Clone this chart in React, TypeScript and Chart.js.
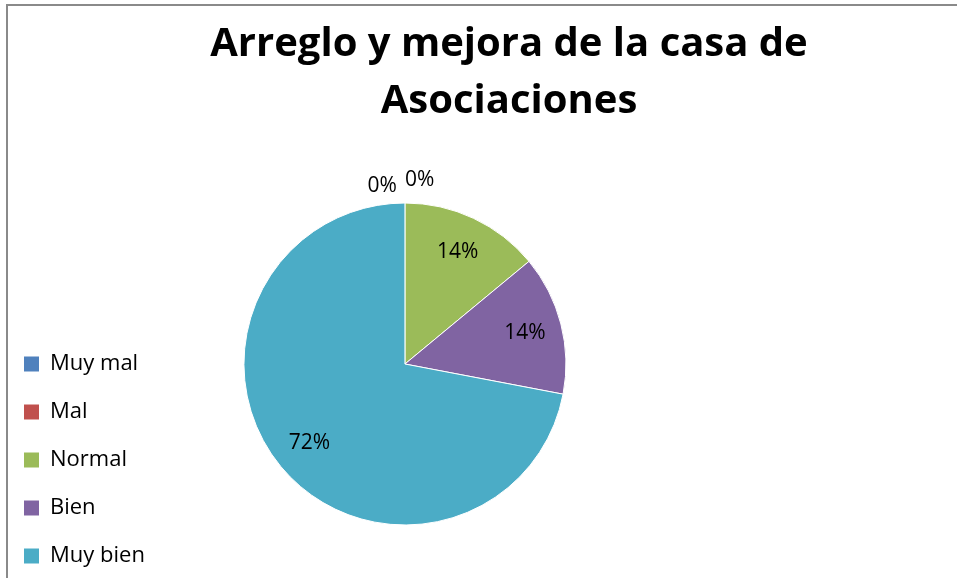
import { useEffect, useRef } from "react";
import { Chart, registerables, DoughnutController } from "chart.js";

Chart.register(...registerables);

const TITLE_LINES = ["Arreglo y mejora de la casa de", "Asociaciones"];
const CATEGORIES = ["Muy mal", "Mal", "Normal", "Bien", "Muy bien"];
const VALUES = [0, 0, 14, 14, 72];
const COLORS = ["#4F81BD", "#C0504D", "#9BBB59", "#8064A2", "#4BACC6"];

const FONT = "'Open Sans', Lato, sans-serif";
const W = 957;
const H = 578;
const FRAME_LEFT = 6;
const FRAME_RIGHT = 1012;

const titlePlugin = {
  id: "customTitle",
  afterDraw(chart: any) {
    const ctx = chart.ctx;
    ctx.save();
    ctx.font = `bold 40px ${FONT}`;
    ctx.fillStyle = "#000";
    ctx.textAlign = "center";
    ctx.textBaseline = "alphabetic";
    const cx = (FRAME_LEFT + FRAME_RIGHT) / 2;
    TITLE_LINES.forEach((line, i) => ctx.fillText(line, cx, 56 + i * 57));
    ctx.restore();
  },
};

const labelPlugin = {
  id: "pctLabels",
  afterDatasetsDraw(chart: any) {
    const meta = chart.getDatasetMeta(0);
    const data = chart.data.datasets[0].data as number[];
    const total = data.reduce((a, b) => a + b, 0);
    const ctx = chart.ctx;
    ctx.save();
    ctx.font = `21px ${FONT}`;
    ctx.fillStyle = "#000";
    ctx.textBaseline = "middle";
    let zeroIdx = 0;
    meta.data.forEach((arc: any, i: number) => {
      const { x, y, startAngle, endAngle, outerRadius } = arc.getProps(
        ["x", "y", "startAngle", "endAngle", "outerRadius"],
        true
      );
      const v = data[i];
      const txt = Math.round((v / total) * 100) + "%";
      const mid = (startAngle + endAngle) / 2;
      if (v > 0) {
        const r = outerRadius * 0.77;
        ctx.textAlign = "center";
        ctx.fillText(txt, x + Math.cos(mid) * r, y + Math.sin(mid) * r);
      } else {
        const r = outerRadius + 20;
        const px = x + Math.cos(mid) * r;
        const py = y + Math.sin(mid) * r;
        if (zeroIdx % 2 === 0) {
          ctx.textAlign = "right";
          ctx.fillText(txt, px - 8, py + 3);
        } else {
          ctx.textAlign = "left";
          ctx.fillText(txt, px, py - 3);
        }
        zeroIdx++;
      }
    });
    ctx.restore();
  },
};

export default function App() {
  const ref = useRef<HTMLCanvasElement | null>(null);

  useEffect(() => {
    if (!ref.current) return;
    const baseGen = (DoughnutController as any).overrides.plugins.legend.labels.generateLabels;
    const chart = new Chart(ref.current, {
      type: "pie",
      data: {
        labels: CATEGORIES,
        datasets: [
          {
            data: VALUES,
            backgroundColor: COLORS,
            borderColor: "#ffffff",
            borderWidth: 1,
          },
        ],
      },
      options: {
        responsive: false,
        animation: false,
        radius: 161,
        layout: { padding: { top: 150, bottom: -15, left: -2, right: 302 } },
        plugins: {
          title: { display: false },
          tooltip: { enabled: false },
          legend: {
            display: true,
            position: "left",
            align: "end",
            labels: {
              boxWidth: 15,
              boxHeight: 15,
              padding: 26,
              color: "#000",
              font: { family: FONT, size: 22 },
              generateLabels: (c: any) =>
                baseGen(c).map((it: any) => ({ ...it, lineWidth: 0, strokeStyle: "rgba(0,0,0,0)" })),
            },
          },
        },
      } as any,
      plugins: [titlePlugin, labelPlugin],
    });
    return () => chart.destroy();
  }, []);

  return (
    <div
      style={{
        position: "fixed",
        left: 0,
        top: 0,
        width: W,
        height: H,
        overflow: "hidden",
        background: "#fff",
      }}
    >
      <div
        style={{
          position: "absolute",
          left: FRAME_LEFT,
          top: 4,
          width: FRAME_RIGHT - FRAME_LEFT,
          height: H + 50,
          borderTop: "2px solid #8a8a8a",
          borderLeft: "2px solid #8a8a8a",
          boxSizing: "border-box",
        }}
      />
      <canvas
        ref={ref}
        width={W}
        height={H}
        style={{ position: "absolute", left: 0, top: 0, width: W, height: H }}
      />
    </div>
  );
}
